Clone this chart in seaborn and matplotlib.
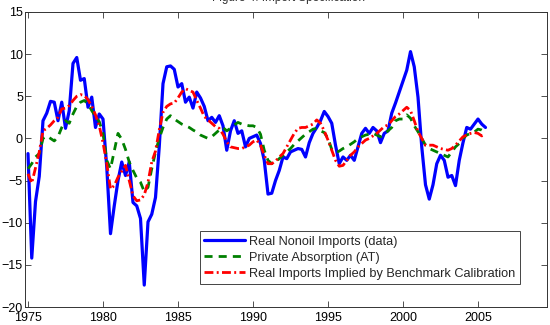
import numpy as np
import pandas as pd
import matplotlib
matplotlib.use("Agg")
import matplotlib.pyplot as plt
import seaborn as sns

start_year = 1975.0
quarter = 0.25

imports_data = [
    -1.8, -14.2, -7.5, -4.5,
    2.1, 3.0, 4.4, 4.3,
    2.1, 4.3, 1.2, 3.3,
    8.9, 9.6, 6.9, 7.1,
    3.7, 4.9, 1.3, 2.9,
    2.3, -3.4, -11.3, -8.0,
    -5.0, -2.8, -4.4, -2.8,
    -7.6, -8.0, -9.5, -17.4,
    -9.9, -9.0, -7.0, -1.0,
    6.5, 8.5, 8.6, 8.2,
    6.1, 6.5, 4.3, 4.9,
    3.6, 5.5, 4.8, 3.8,
    2.1, 2.5, 1.9, 2.7,
    1.5, -1.4, 0.9, 2.1,
    0.6, 0.9, -1.0, 0.0,
    0.2, 0.4, -0.6, -2.6,
    -6.6, -6.5, -5.0, -3.8,
    -2.2, -2.4, -1.6, -1.4,
    -1.2, -1.3, -2.2, -0.5,
    0.6, 1.3, 2.1, 3.2,
    2.6, 1.8, -0.8, -3.0,
    -2.2, -2.6, -2.0, -2.6,
    -1.0, 0.6, 1.2, 0.6,
    1.3, 0.9, -0.5, 0.6,
    0.9, 3.0, 4.2, 5.5,
    6.8, 8.1, 10.3, 8.5,
    4.9, -1.0, -5.5, -7.2,
    -5.5, -3.0, -2.0, -2.6,
    -4.6, -4.4, -5.6, -2.6,
    -0.5, 1.3, 1.1, 1.7,
    2.3, 1.7, 1.3,
]

private_absorption = [
    -3.6, -3.0, -2.2, -1.8,
    0.0, 0.3, 0.0, -0.3,
    0.2, 1.3, 2.1, 1.8,
    2.9, 3.8, 4.3, 4.5,
    4.1, 3.3, 2.6, 2.0,
    0.6, -2.6, -3.6, -1.5,
    0.6, -0.1, -1.3, -2.8,
    -3.8, -4.7, -5.2, -6.3,
    -5.8, -3.6, -1.6, 0.0,
    1.3, 2.3, 2.7, 2.3,
    2.0, 1.7, 1.5, 1.3,
    1.0, 0.75, 0.4, 0.2,
    0.0, 0.2, 0.6, 1.0,
    1.3, 0.9, 1.2, 1.6,
    1.9, 1.7, 1.6, 1.5,
    1.5, 1.3, 0.5, -1.4,
    -2.6, -3.0, -2.8, -2.4,
    -2.0, -1.6, -1.2, -0.7,
    -0.3, 0.1, 0.5, 0.8,
    1.1, 1.2, 0.9, 0.7,
    0.0, -1.3, -1.7, -1.5,
    -1.2, -1.0, -0.7, -0.4,
    0.0, 0.2, 0.4, 0.5,
    0.6, 0.4, 0.2, 0.5,
    0.9, 1.3, 2.1, 2.3,
    2.3, 2.8, 2.4, 1.5,
    0.8, 0.0, -0.8, -1.2,
    -1.4, -1.6, -1.8, -2.0,
    -2.2, -1.6, -1.0, -0.6,
    0.0, 0.4, 0.6, 0.75,
    1.1, 1.0, 0.75,
]

implied_imports = [
    -4.2, -5.3, -3.5, -1.6,
    0.9, 1.2, 1.6, 2.1,
    2.5, 3.5, 3.6, 3.9,
    4.5, 5.0, 5.2, 5.1,
    4.6, 3.8, 2.8, 1.5,
    -0.5, -3.0, -6.0, -5.6,
    -4.6, -3.9, -3.2, -5.0,
    -6.8, -7.4, -7.3, -6.7,
    -5.2, -2.8, -1.5, 1.0,
    3.1, 3.8, 4.1, 4.2,
    4.8, 5.5, 5.9, 5.7,
    5.5, 4.5, 3.6, 2.6,
    2.2, 1.8, 1.4, 1.2,
    0.5, -0.4, -1.0, -1.1,
    -1.2, -1.2, -1.0, -0.8,
    -0.4, -0.2, -0.8, -2.0,
    -3.0, -3.0, -2.7, -2.2,
    -1.8, -1.0, -0.2, 0.6,
    1.2, 1.3, 1.3, 1.5,
    1.7, 2.2, 1.8, 0.9,
    -0.2, -1.4, -2.6, -3.3,
    -3.2, -2.6, -2.0, -1.6,
    -1.0, -0.6, -0.2, 0.0,
    0.3, 0.6, 1.0, 1.4,
    1.6, 2.1, 2.6, 2.9,
    3.3, 3.7, 3.3, 2.1,
    0.8, 0.0, -0.8, -0.8,
    -0.8, -1.0, -1.2, -1.3,
    -1.4, -1.2, -0.8, -0.3,
    0.2, 0.4, 0.6, 0.7,
    0.6, 0.3, 0.5,
]

labels = [
    "Real Nonoil Imports (data)",
    "Private Absorption (AT)",
    "Real Imports Implied by Benchmark Calibration",
]
x_ticks = [1975, 1980, 1985, 1990, 1995, 2000, 2005]
y_ticks = [-20, -15, -10, -5, 0, 5, 10, 15]
title_text = "Figure 4: Import Specification"

n = len(imports_data)
years = start_year + quarter * np.arange(n)
df = pd.DataFrame({
    "year": years,
    labels[0]: imports_data,
    labels[1]: private_absorption,
    labels[2]: implied_imports,
})

sns.set_style("white")
plt.rcParams["font.family"] = ["Liberation Sans", "DejaVu Sans"]

fig = plt.figure(figsize=(5.5, 3.25), dpi=100)
ax = fig.add_axes([25 / 550, 1 - 307 / 325, 522 / 550, 295 / 325])

sns.lineplot(data=df, x="year", y=labels[0], ax=ax, color="#0000ff",
             linewidth=2.3, label=labels[0])
sns.lineplot(data=df, x="year", y=labels[1], ax=ax, color="#008000",
             linewidth=2.0, label=labels[1])
sns.lineplot(data=df, x="year", y=labels[2], ax=ax, color="#ff0000",
             linewidth=2.0, label=labels[2])
ax.lines[1].set_dashes([2.9, 2.2])
ax.lines[2].set_dashes([3.2, 1.2, 0.7, 1.2])

ax.set_xlim(1974.8, 2009.6)
ax.set_ylim(-20, 15)
ax.set_xticks(x_ticks)
ax.set_yticks(y_ticks)
ax.set_xlabel("")
ax.set_ylabel("")
ax.tick_params(axis="both", direction="in", length=4, width=0.6,
               labelsize=9, colors="#333333", labelcolor="black",
               top=True, right=True, bottom=True, left=True, pad=1.5)
ax.tick_params(axis="x", pad=3.5)
for s in ax.spines.values():
    s.set_visible(True)
    s.set_color("#333333")
    s.set_linewidth(0.7)

leg = ax.legend(loc="lower right", bbox_to_anchor=(0.948, 0.078),
                fontsize=9.2, frameon=True, fancybox=False, framealpha=1,
                handlelength=3.2, handletextpad=0.3, borderpad=0.35,
                labelspacing=0.3, borderaxespad=0)
leg.get_frame().set_edgecolor("#444444")
leg.get_frame().set_linewidth(0.7)

fig.text(0.525, 1 - 1.5 / 325, title_text, ha="center", va="baseline",
         fontsize=8.5, color="#333333")

fig.savefig("out.png", dpi=100)
